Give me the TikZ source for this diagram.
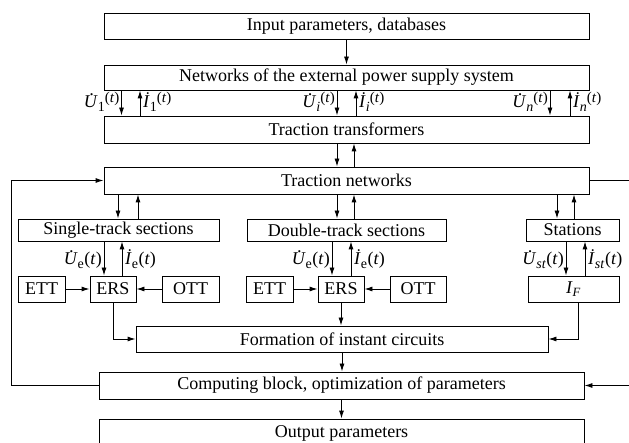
\documentclass[tikz,border=0pt]{standalone}
\usepackage{fontspec}
\setmainfont{Liberation Serif}
\usetikzlibrary{arrows.meta}
\newcommand\mybox[6]{\node[box, minimum width={(#4)-(#3)}, minimum height={(#6)-(#5)}] (#1) at ({((#3)+(#4))/2},{((#5)+(#6))/2}) {#2};}
\newcommand\vdn[3]{\draw[arr] (#1,0 |- #2.south) -- (#1,0 |- #3.north);}
\newcommand\vup[3]{\draw[arr] (#1,0 |- #3.north) -- (#1,0 |- #2.south);}
\newcommand\Ud{\rlap{\kern0.33em\raisebox{0.68em}{\textit{.}}}\textit{U}}
\newcommand\Id{\textit{\.I}}
\newcommand\sbs[1]{\raisebox{-0.22em}{\fontsize{14}{14}\selectfont #1}}
\newcommand\tpar{\raisebox{0.3em}{\fontsize{15}{15}\selectfont(\textit{t})}}
\newcommand\lpar{\kern0.5pt(\textit{t})}
\begin{document}
\begin{tikzpicture}[x=1pt,y=-1pt,
  box/.style={draw, line width=0.9pt, inner sep=0pt, font=\fontsize{18}{21}\selectfont},
  arr/.style={line width=0.9pt, -{Latex[length=8pt,width=5pt]}},
  lbl/.style={inner sep=0pt, font=\fontsize{18}{21}\selectfont}]
\useasboundingbox (0,0) rectangle (629,443);
\mybox{inp}{Input parameters, databases}{104}{589}{13}{39}
\mybox{net}{Networks of the external power supply system}{104}{589}{65}{90}
\mybox{tt}{Traction transformers}{104}{589}{116}{143}
\mybox{tn}{Traction networks}{104}{589}{167}{194}
\mybox{st1}{Single-track sections}{18}{219}{219}{241}
\mybox{st2}{Double-track sections}{247}{446}{219}{241}
\mybox{sta}{Stations}{526}{619}{219}{241}
\mybox{ett1}{ETT}{18}{65}{276}{302}
\mybox{ers1}{ERS}{90}{136}{276}{302}
\mybox{ott1}{OTT}{162}{219}{276}{302}
\mybox{ett2}{ETT}{246}{293}{276}{302}
\mybox{ers2}{ERS}{318}{364}{276}{302}
\mybox{ott2}{OTT}{390}{446}{276}{302}
\mybox{ifb}{\textit{I}\textsubscript{\textit{F}}}{528}{619}{276}{302}
\mybox{form}{Formation of instant circuits}{136}{548}{326}{352}
\mybox{comp}{Computing block, optimization of parameters}{99}{584}{372}{399}
\mybox{out}{Output parameters}{99}{584}{419}{447}
% vertical arrows
\draw[arr] (inp) -- (net);
\vdn{121.5}{net}{tt} \vup{140}{net}{tt}
\vdn{337}{net}{tt} \vup{356}{net}{tt}
\vdn{550}{net}{tt} \vup{570}{net}{tt}
\vdn{337}{tt}{tn} \vup{354}{tt}{tn}
\vdn{118}{tn}{st1} \vup{138}{tn}{st1}
\vdn{337}{tn}{st2} \vup{354}{tn}{st2}
\vdn{557}{tn}{sta} \vup{574}{tn}{sta}
\vdn{104}{st1}{ers1} \vup{122}{st1}{ers1}
\vdn{332}{st2}{ers2} \vup{351}{st2}{ers2}
\vdn{566}{sta}{ifb} \vup{585}{sta}{ifb}
% labels
\node[lbl, anchor=base east] (lu1) at (119.5,107.5) {\Ud\sbs{1}\tpar};
\node[lbl, anchor=base west] (li1) at (143,107.5) {\Id\sbs{1}\tpar};
\node[lbl, anchor=base east] (lui) at (335,107.5) {\Ud\sbs{\textit{i}}\tpar};
\node[lbl, anchor=base west] (lii) at (359,107.5) {\Id\sbs{\textit{i}}\tpar};
\node[lbl, anchor=base east] (lun) at (548,107.5) {\Ud\sbs{\textit{n}}\tpar};
\node[lbl, anchor=base west] (lin) at (573,107.5) {\Id\sbs{\textit{n}}\tpar};
\node[lbl, anchor=base east] (lue1) at (102,265) {\Ud\sbs{e}\lpar};
\node[lbl, anchor=base west] (lie1) at (125,265) {\Id\sbs{e}\lpar};
\node[lbl, anchor=base east] (lue2) at (330,265) {\Ud\sbs{e}\lpar};
\node[lbl, anchor=base west] (lie2) at (354,265) {\Id\sbs{e}\lpar};
\node[lbl, anchor=base east] (lust) at (564,265) {\Ud\sbs{\textit{st}}\lpar};
\node[lbl, anchor=base west] (list) at (588,265) {\Id\sbs{\textit{st}}\lpar};
% horizontal arrows
\draw[arr] (ett1) -- (ers1);
\draw[arr] (ott1) -- (ers1);
\draw[arr] (ett2) -- (ers2);
\draw[arr] (ott2) -- (ers2);
% to formation
\draw[arr] (ers1.south) |- (form.west);
\draw[arr] (ers2.south) -- (ers2.south |- form.north);
\draw[arr] (578,0 |- ifb.south) |- (form.east);
\draw[arr] (form.south) -- (form.south |- comp.north);
\draw[arr] (comp) -- (out);
% feedback loops
\draw[arr] (comp.west) -- (11,0 |- comp.west) |- (tn.west);
\draw[arr] (tn.east) -- (632,0 |- tn.east) |- (comp.east);
\end{tikzpicture}
\end{document}
